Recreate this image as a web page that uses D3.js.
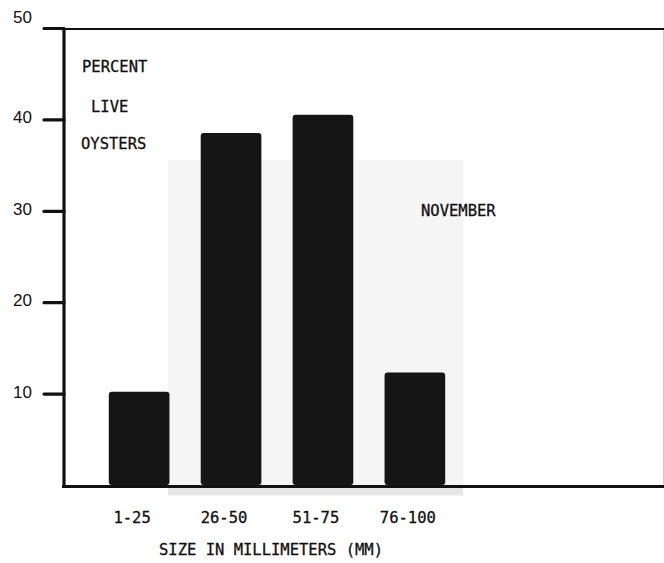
<!DOCTYPE html>
<html><head><meta charset="utf-8">
<script src="https://cdn.jsdelivr.net/npm/d3@7"></script>
<style>html,body{margin:0;padding:0;background:#fff;}svg{display:block;}</style>
</head><body>
<svg id="chart" width="664" height="563"></svg>
<script>
const categories = ["1-25", "26-50", "51-75", "76-100"];
const percentLive = [10.2, 38.5, 40.5, 12.3];
const yTicks = [10, 20, 30, 40, 50];
const yLabel = ["PERCENT", "LIVE", "OYSTERS"];
const monthLabel = "NOVEMBER";
const xTitle = "SIZE IN MILLIMETERS (MM)";

const svg = d3.select("#chart");
const mono = "'DejaVu Sans Mono', 'Liberation Mono', monospace";

const y = d3.scaleLinear().domain([0, 50]).range([485, 28]);
const x = d3.scaleBand().domain(categories).range([61, 493]).paddingInner(0.34).paddingOuter(0.52);

// faint scan shading behind middle bars
const shade = svg.append("g").attr("fill", "#f5f5f5");
shade.append("rect").attr("x", 168).attr("y", 160).attr("width", 295).attr("height", 336);
shade.append("rect").attr("x", 168).attr("y", 486).attr("width", 295).attr("height", 9).attr("fill", "#e6e6e6");

// bars
svg.append("g").selectAll("rect").data(categories).join("rect")
  .attr("x", d => x(d))
  .attr("y", (d, i) => y(percentLive[i]))
  .attr("width", x.bandwidth())
  .attr("height", (d, i) => y(0) - y(percentLive[i]))
  .attr("rx", 3)
  .attr("fill", "#151515");

// frame: top line, right faint line, baseline, left axis
svg.append("line").attr("x1", 44).attr("x2", 664).attr("y1", y(50)+1).attr("y2", y(50)+1)
  .attr("stroke", "#111").attr("stroke-width", 2.2);
svg.append("line").attr("x1", 663.5).attr("x2", 663.5).attr("y1", y(50)+2).attr("y2", y(0))
  .attr("stroke", "#ccc").attr("stroke-width", 1);
svg.append("line").attr("x1", 62).attr("x2", 664).attr("y1", y(0)+1.5).attr("y2", y(0)+1.5)
  .attr("stroke", "#111").attr("stroke-width", 3);

const yAxis = d3.axisLeft(y).tickValues(yTicks).tickSize(20).tickPadding(12).tickFormat(d3.format("d"));
const gy = svg.append("g").attr("transform", "translate(64,0)").call(yAxis);
gy.select(".domain").attr("stroke", "#111").attr("stroke-width", 3.2)
  .attr("d", `M0,${y(50)}V${y(0)+3}`);
gy.selectAll(".tick line").attr("stroke", "#111").attr("stroke-width", 3.2).attr("stroke-linecap", "round");
gy.selectAll(".tick text")
  .attr("font-family", "'Liberation Sans', Arial, sans-serif")
  .attr("font-size", 17)
  .attr("fill", "#111")
  .attr("dy", d => d === 50 ? "-0.3em" : "0.2em");

function monoText(sel) {
  return sel.attr("font-family", mono).attr("font-size", 15.5).attr("fill", "#111")
    .attr("stroke", "#111").attr("stroke-width", 0.3);
}

// x labels
monoText(svg.append("g").selectAll("text").data(categories).join("text"))
  .attr("x", d => x(d) + x.bandwidth() / 2 - 7)
  .attr("y", 523)
  .attr("text-anchor", "middle")
  .text(d => d);

// y label block
const ylx = [82, 91, 81];
const yly = [72, 112, 149];
monoText(svg.append("g").selectAll("text").data(yLabel).join("text"))
  .attr("x", (d, i) => ylx[i]).attr("y", (d, i) => yly[i])
  .text(d => d);

monoText(svg.append("text")).attr("x", 421).attr("y", 216).text(monthLabel);

monoText(svg.append("text")).attr("x", 271).attr("y", 555).attr("text-anchor", "middle").text(xTitle);
</script>
</body></html>
